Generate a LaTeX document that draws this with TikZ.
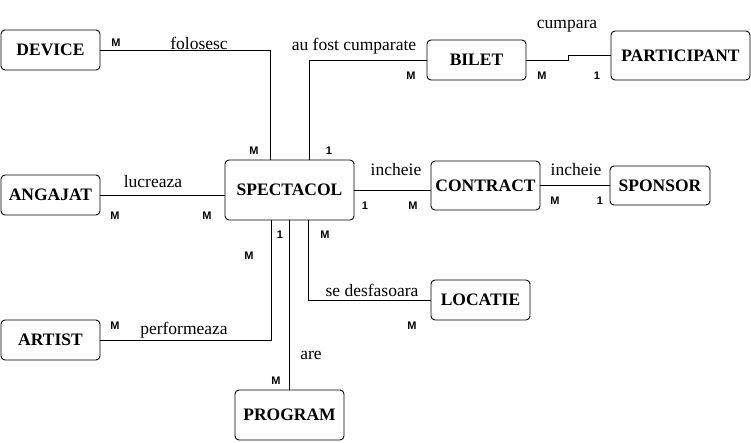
\documentclass[tikz,border=0pt]{standalone}
\usepackage{fontspec}
\setmainfont{Liberation Serif}
\newfontfamily\cardfont{Liberation Sans}
\tikzset{
  entity/.style={draw, rounded corners=4pt, line width=0.9pt, inner sep=0pt,
    font=\fontsize{17.5}{20}\selectfont\bfseries},
  rel/.style={inner sep=0pt, font=\fontsize{17.5}{20}\selectfont},
  card/.style={inner sep=0pt, font=\cardfont\fontsize{11}{13}\selectfont\bfseries},
  link/.style={line width=0.9pt}
}
\begin{document}
\begin{tikzpicture}[x=1pt, y=-1pt]
    \useasboundingbox (0,0) rectangle (751,442);
    % entities
    \node[entity, minimum width=99pt,  minimum height=40pt] (device)      at (50.5,50)   {DEVICE};
    \node[entity, minimum width=99pt,  minimum height=40pt] (angajat)     at (50.5,195)  {ANGAJAT};
    \node[entity, minimum width=99pt,  minimum height=40pt] (artist)      at (50.5,340)  {ARTIST};
    \node[entity, minimum width=129pt, minimum height=60pt] (spectacol)   at (289.5,190) {SPECTACOL};
    \node[entity, minimum width=99pt,  minimum height=40pt] (bilet)       at (476.5,60)  {BILET};
    \node[entity, minimum width=139pt, minimum height=49pt] (participant) at (680.5,55.5){PARTICIPANT};
    \node[entity, minimum width=109pt, minimum height=49pt] (contract)    at (485.5,185.5){CONTRACT};
    \node[entity, minimum width=100pt, minimum height=39pt] (sponsor)     at (660,185.5) {SPONSOR};
    \node[entity, minimum width=99pt,  minimum height=40pt] (locatie)     at (480.5,300) {LOCATIE};
    \node[entity, minimum width=109pt, minimum height=50pt] (program)     at (289.5,415) {PROGRAM};
    % relations
    \draw[link] (device.east) -| ([xshift=-19.5pt]spectacol.north);
    \draw[link] ([xshift=19.5pt]spectacol.north) |- (bilet.west);
    \draw[link] (bilet.east) -- ++(41.5,0) |- (participant.west);
    \draw[link] (angajat.east) -- (angajat.east -| spectacol.west);
    \draw[link] (spectacol.east) -- (spectacol.east -| contract.west);
    \draw[link] (contract.east) -- (sponsor.west);
    \draw[link] ([xshift=-18.5pt]spectacol.south) |- (artist.east);
    \draw[link] (spectacol.south) -- (program.north);
    \draw[link] ([xshift=19pt]spectacol.south) |- (locatie.west);
    % relation names
    \node[rel] (lFolosesc)   at (199,43)  {folosesc};
    \node[rel] (lCumparate)  at (354,46)  {au fost cumparate};
    \node[rel] (lCumpara)    at (567,26)  {cumpara};
    \node[rel] (lLucreaza)   at (153,182) {lucreaza};
    \node[rel] (lIncheieA)   at (396,170) {incheie};
    \node[rel] (lIncheieB)   at (576,170) {incheie};
    \node[rel] (lPerformeaza) at (184,330) {performeaza};
    \node[rel] (lDesfasoara) at (372,290) {se desfasoara};
    \node[rel] (lAre)        at (311,355) {are};
    % cardinalities
    \node[card] (cDevice)     at (116,43)  {M};
    \node[card] (cSpecDev)    at (254,151) {M};
    \node[card] (cSpecBil)    at (329,151) {1};
    \node[card] (cBilet)      at (411,76)  {M};
    \node[card] (cBiletPart)  at (542,76)  {M};
    \node[card] (cPart)       at (597,76)  {1};
    \node[card] (cAngajat)    at (115,216) {M};
    \node[card] (cSpecAng)    at (207,216) {M};
    \node[card] (cSpecCon)    at (365,206) {1};
    \node[card] (cContract)   at (413,206) {M};
    \node[card] (cConSpon)    at (555,201) {M};
    \node[card] (cSponsor)    at (600,201) {1};
    \node[card] (cArtist)     at (115,326) {M};
    \node[card] (cSpecArt)    at (249,256) {M};
    \node[card] (cSpecProg)   at (280,235) {1};
    \node[card] (cSpecLoc)    at (325,235) {M};
    \node[card] (cLocatie)    at (412,326) {M};
    \node[card] (cProgram)    at (276,381) {M};
\end{tikzpicture}
\end{document}
